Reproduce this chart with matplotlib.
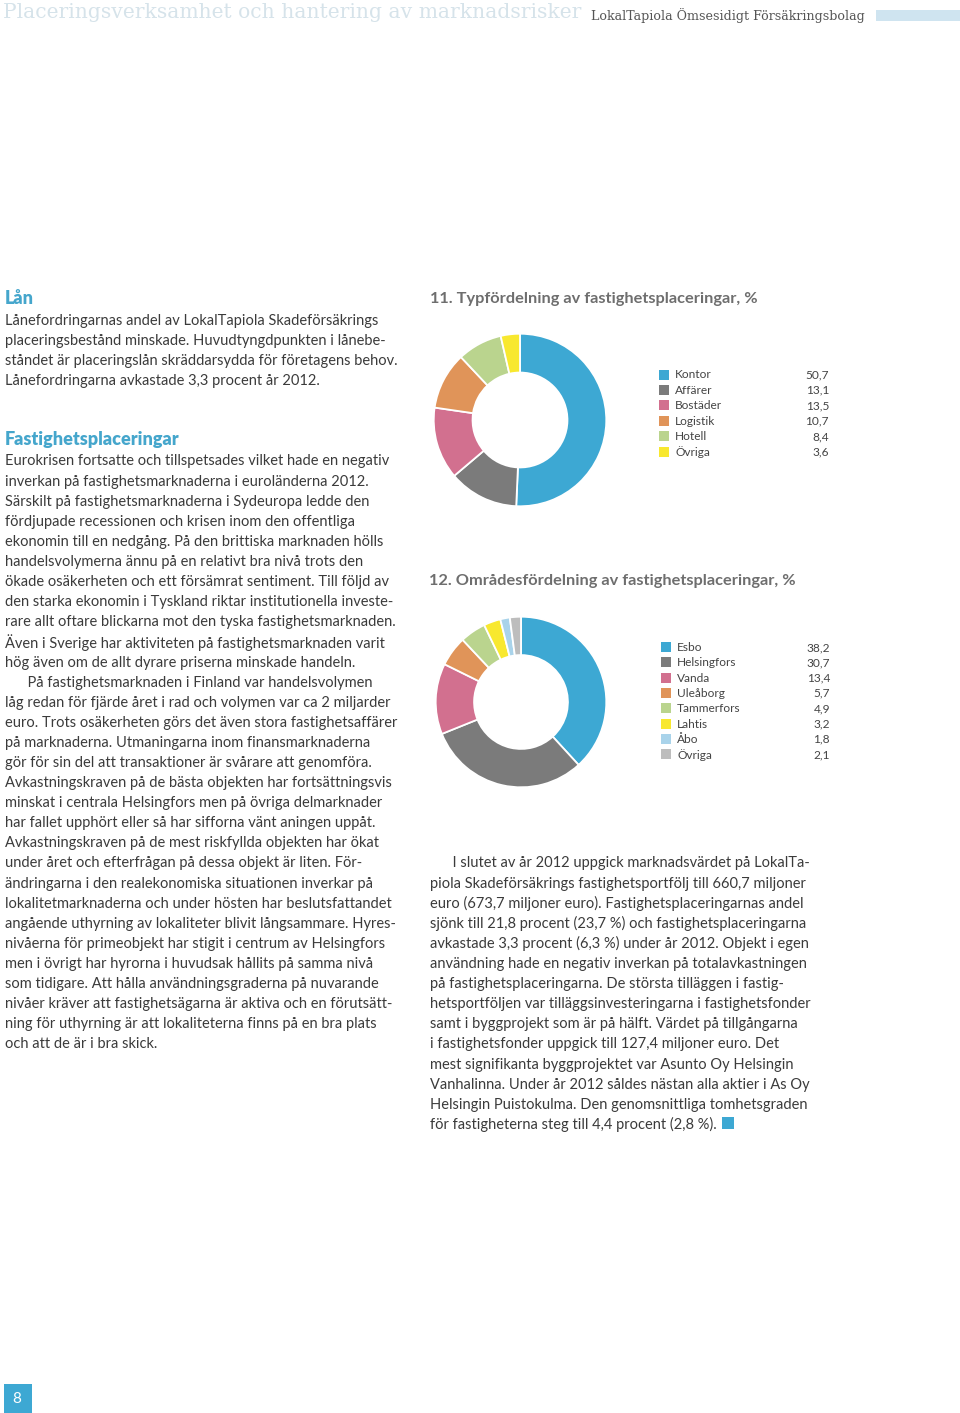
import matplotlib
matplotlib.use("Agg")
from matplotlib import pyplot as plt
from matplotlib.patches import Rectangle

W, H = 960, 1413

# chart 11: type distribution
type_labels = ["Kontor", "Affärer", "Bostäder", "Logistik", "Hotell", "Övriga"]
type_values = [50.7, 13.1, 13.5, 10.7, 8.4, 3.6]
type_colors = ["#3da8d3", "#7b7b7b", "#d2708f", "#e09459", "#bad48e", "#f8e82f"]

# chart 12: area distribution
area_labels = ["Esbo", "Helsingfors", "Vanda", "Uleåborg", "Tammerfors", "Lahtis", "Åbo", "Övriga"]
area_values = [38.2, 30.7, 13.4, 5.7, 4.9, 3.2, 1.8, 2.1]
area_colors = ["#3da8d3", "#7b7b7b", "#d2708f", "#e09459", "#bad48e", "#f8e82f", "#a9d3ea", "#bdbdbd"]

left_par1 = [
    "Lånefordringarnas andel av LokalTapiola Skadeförsäkrings",
    "placeringsbestånd minskade. Huvudtyngdpunkten i lånebe-",
    "ståndet är placeringslån skräddarsydda för företagens behov.",
    "Lånefordringarna avkastade 3,3 procent år 2012.",
]
left_par2 = [
    "Eurokrisen fortsatte och tillspetsades vilket hade en negativ",
    "inverkan på fastighetsmarknaderna i euroländerna 2012.",
    "Särskilt på fastighetsmarknaderna i Sydeuropa ledde den",
    "fördjupade recessionen och krisen inom den offentliga",
    "ekonomin till en nedgång. På den brittiska marknaden hölls",
    "handelsvolymerna ännu på en relativt bra nivå trots den",
    "ökade osäkerheten och ett försämrat sentiment. Till följd av",
    "den starka ekonomin i Tyskland riktar institutionella investe-",
    "rare allt oftare blickarna mot den tyska fastighetsmarknaden.",
    "Även i Sverige har aktiviteten på fastighetsmarknaden varit",
    "hög även om de allt dyrare priserna minskade handeln.",
    "      På fastighetsmarknaden i Finland var handelsvolymen",
    "låg redan för fjärde året i rad och volymen var ca 2 miljarder",
    "euro. Trots osäkerheten görs det även stora fastighetsaffärer",
    "på marknaderna. Utmaningarna inom finansmarknaderna",
    "gör för sin del att transaktioner är svårare att genomföra.",
    "Avkastningskraven på de bästa objekten har fortsättningsvis",
    "minskat i centrala Helsingfors men på övriga delmarknader",
    "har fallet upphört eller så har sifforna vänt aningen uppåt.",
    "Avkastningskraven på de mest riskfyllda objekten har ökat",
    "under året och efterfrågan på dessa objekt är liten. För-",
    "ändringarna i den realekonomiska situationen inverkar på",
    "lokalitetmarknaderna och under hösten har beslutsfattandet",
    "angående uthyrning av lokaliteter blivit långsammare. Hyres-",
    "nivåerna för primeobjekt har stigit i centrum av Helsingfors",
    "men i övrigt har hyrorna i huvudsak hållits på samma nivå",
    "som tidigare. Att hålla användningsgraderna på nuvarande",
    "nivåer kräver att fastighetsägarna är aktiva och en förutsätt-",
    "ning för uthyrning är att lokaliteterna finns på en bra plats",
    "och att de är i bra skick.",
]
right_par = [
    "      I slutet av år 2012 uppgick marknadsvärdet på LokalTa-",
    "piola Skadeförsäkrings fastighetsportfölj till 660,7 miljoner",
    "euro (673,7 miljoner euro). Fastighetsplaceringarnas andel",
    "sjönk till 21,8 procent (23,7 %) och fastighetsplaceringarna",
    "avkastade 3,3 procent (6,3 %) under år 2012. Objekt i egen",
    "användning hade en negativ inverkan på totalavkastningen",
    "på fastighetsplaceringarna. De största tilläggen i fastig-",
    "hetsportföljen var tilläggsinvesteringarna i fastighetsfonder",
    "samt i byggprojekt som är på hälft. Värdet på tillgångarna",
    "i fastighetsfonder uppgick till 127,4 miljoner euro. Det",
    "mest signifikanta byggprojektet var Asunto Oy Helsingin",
    "Vanhalinna. Under år 2012 såldes nästan alla aktier i As Oy",
    "Helsingin Puistokulma. Den genomsnittliga tomhetsgraden",
    "för fastigheterna steg till 4,4 procent (2,8 %).",
]

BODY = "#3b3b3b"
BLUE = "#3da8d3"
HEAD_BLUE = "#45a6cc"
TITLE_GRAY = "#6e6e6e"
FONT = "Lato"
BODY_SIZE = 10.55
LINE = 20.1

fig = plt.figure(figsize=(W / 100, H / 100), dpi=100)
page = fig.add_axes([0, 0, 1, 1])
page.set_xlim(0, W)
page.set_ylim(H, 0)
page.axis("off")


def px_axes(cx, cy, r):
    return fig.add_axes([(cx - r) / W, 1 - (cy + r) / H, 2 * r / W, 2 * r / H])


def block(x, y0, lines, **kw):
    for i, s in enumerate(lines):
        page.text(x, y0 + i * LINE, s, va="center", ha="left", family=FONT,
                  fontsize=BODY_SIZE, color=BODY, **kw)


# header
page.text(3, 12, "Placeringsverksamhet och hantering av marknadsrisker", family="DejaVu Serif",
          fontsize=14.6, color="#d6e3ea", va="center", ha="left")
page.text(591, 16, "LokalTapiola Ömsesidigt Försäkringsbolag", family="DejaVu Serif",
          fontsize=9.1, color="#555555", va="center", ha="left")
page.add_patch(Rectangle((876, 10), 84, 11, color="#cfe4f0", lw=0))

# left column
page.text(5, 299, "Lån", family=FONT, fontsize=13, weight="heavy", color=HEAD_BLUE, va="center")
block(5, 320.5, left_par1)
page.text(5, 440, "Fastighetsplaceringar", family=FONT, fontsize=13, weight="heavy",
          color=HEAD_BLUE, va="center")
block(5, 461.5, left_par2)

# right column text
block(430, 863.5, right_par)
page.add_patch(Rectangle((722, 1117), 12, 12, color=BLUE, lw=0))

# chart titles
page.text(430, 299, "11. Typfördelning av fastighetsplaceringar, %", family=FONT,
          fontsize=11.8, weight="bold", color=TITLE_GRAY, va="center")
page.text(429, 581, "12. Områdesfördelning av fastighetsplaceringar, %", family=FONT,
          fontsize=11.8, weight="bold", color=TITLE_GRAY, va="center")


def donut(cx, cy, r, values, colors):
    ax = px_axes(cx, cy, r)
    ax.pie(values, colors=colors, startangle=90, counterclock=False, radius=1.0,
           wedgeprops=dict(width=0.45, edgecolor="white", linewidth=1.3))
    ax.set_xlim(-1.02, 1.02)
    ax.set_ylim(-1.02, 1.02)
    ax.axis("off")


def legend(x_box, x_val, y0, step, labels, values, colors):
    for i, (lab, v, c) in enumerate(zip(labels, values, colors)):
        y = y0 + i * step
        page.add_patch(Rectangle((x_box, y - 5), 10, 10, color=c, lw=0))
        page.text(x_box + 16, y + 0.5, lab, family=FONT, fontsize=8.6, color="#444444", va="center")
        page.text(x_val, y + 0.5, f"{v:.1f}".replace(".", ","), family=FONT, fontsize=8.6,
                  color="#444444", va="center", ha="right")


donut(520, 420, 88, type_values, type_colors)
legend(659, 829, 374.5, 15.4, type_labels, type_values, type_colors)

donut(521, 702, 87, area_values, area_colors)
legend(661, 830, 647, 15.3, area_labels, area_values, area_colors)

# page number
page.add_patch(Rectangle((4, 1384), 28, 29, color=BLUE, lw=0))
page.text(12, 1399, "8", family=FONT, fontsize=11, color="white", va="center", ha="left")

fig.savefig("out.png", dpi=100)
